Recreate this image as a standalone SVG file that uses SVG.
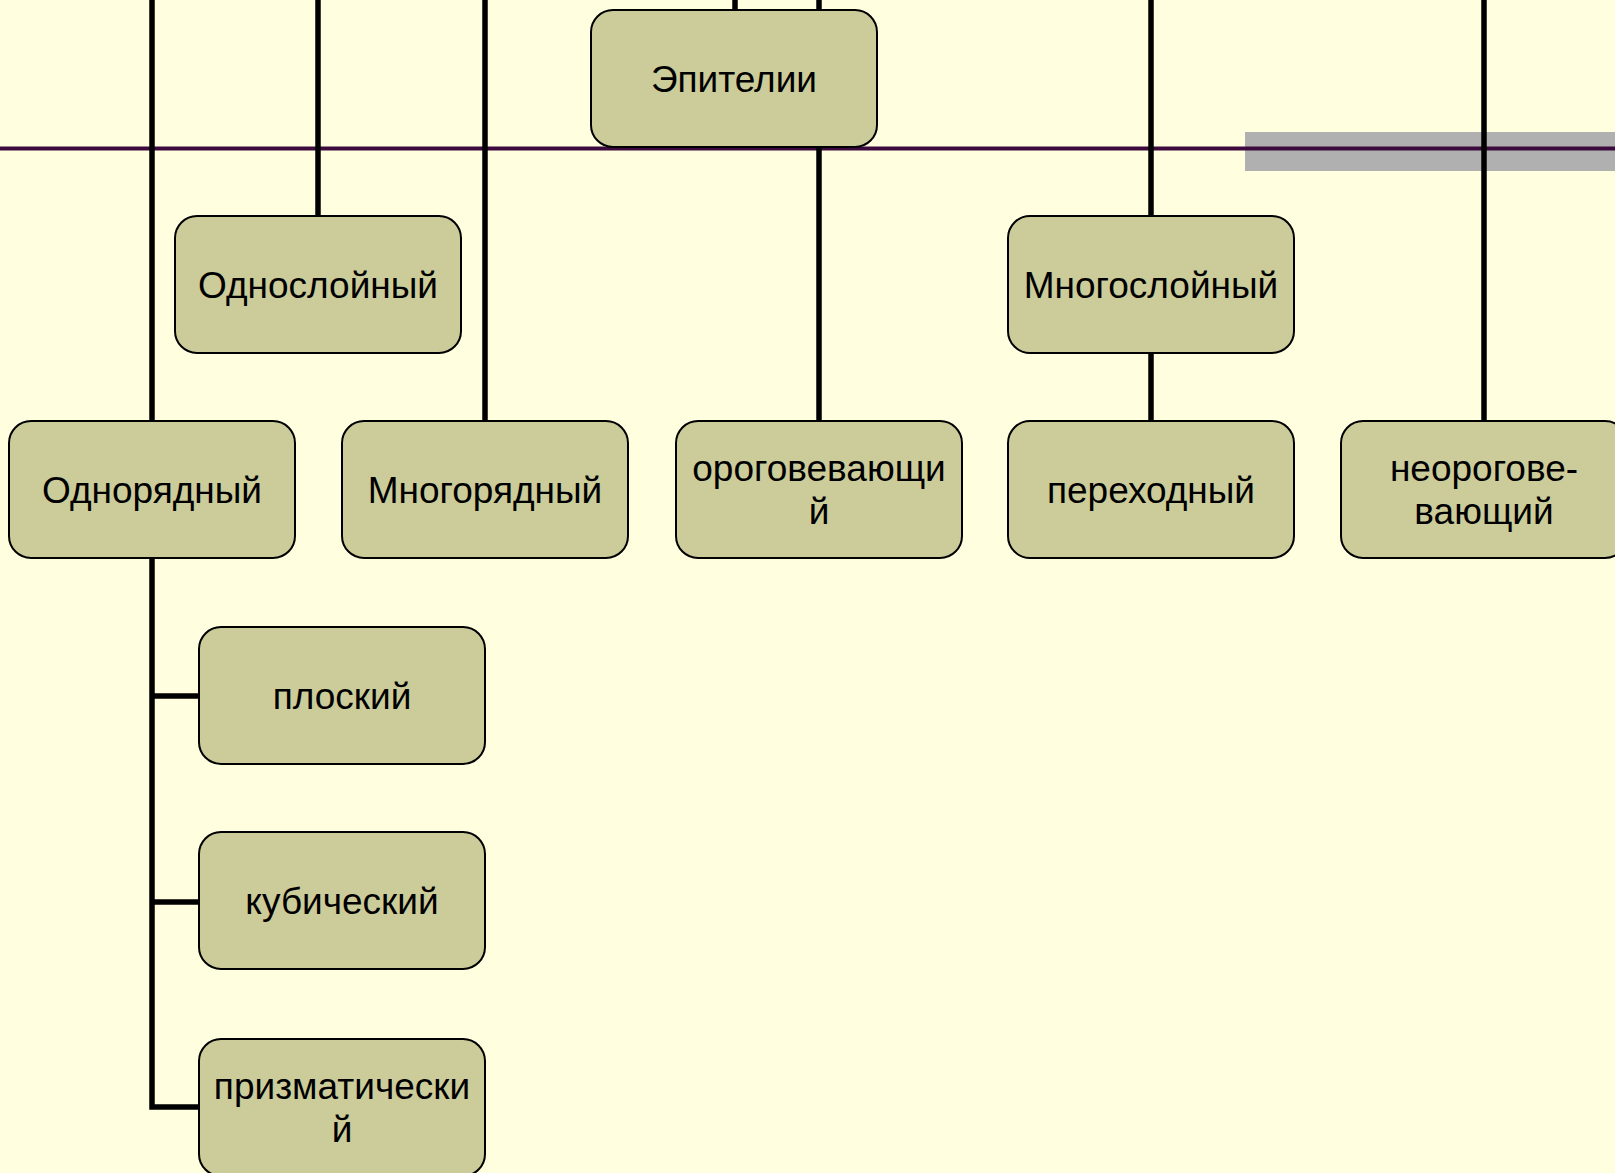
<svg xmlns="http://www.w3.org/2000/svg" width="1615" height="1173" viewBox="0 0 1615 1173">
<style>
.bg{fill:#FFFFE0}
.band{fill:#B0B0B0}
.rule{stroke:#3C0A3C;stroke-width:4;fill:none}
.conn{stroke:#000;stroke-width:5.5;fill:none}
.box{fill:#CCCC9A;stroke:#000;stroke-width:2}
.lbl{font-family:"Liberation Sans",Arial,sans-serif;font-size:37px;fill:#000;text-anchor:middle;dominant-baseline:central}
</style>
<rect class="bg" x="0" y="0" width="1615" height="1173"/>
<rect class="band" x="1245" y="132" width="370" height="39"/>
<line class="rule" x1="0" y1="148.5" x2="1615" y2="148.5"/>
<g id="connectors">
<line class="conn" x1="152" y1="0" x2="152" y2="421"/>
<polyline class="conn" points="152,558 152,1107 199,1107"/>
<line class="conn" x1="152" y1="696" x2="199" y2="696"/>
<line class="conn" x1="152" y1="902" x2="199" y2="902"/>
<line class="conn" x1="318" y1="0" x2="318" y2="216"/>
<line class="conn" x1="485" y1="0" x2="485" y2="421"/>
<line class="conn" x1="735" y1="0" x2="735" y2="10"/>
<line class="conn" x1="819" y1="0" x2="819" y2="421"/>
<line class="conn" x1="1151" y1="0" x2="1151" y2="421"/>
<line class="conn" x1="1484" y1="0" x2="1484" y2="421"/>
</g>
<g id="n-epitelii"><rect class="box" x="591" y="10" width="286" height="137" rx="22"/><text class="lbl" x="734" y="79">Эпителии</text></g>
<g id="n-odnosloiny"><rect class="box" x="175" y="216" width="286" height="137" rx="22"/><text class="lbl" x="318" y="285">Однослойный</text></g>
<g id="n-mnogosloiny"><rect class="box" x="1008" y="216" width="286" height="137" rx="22"/><text class="lbl" x="1151" y="285">Многослойный</text></g>
<g id="n-odnoryadny"><rect class="box" x="9" y="421" width="286" height="137" rx="22"/><text class="lbl" x="152" y="490">Однорядный</text></g>
<g id="n-mnogoryadny"><rect class="box" x="342" y="421" width="286" height="137" rx="22"/><text class="lbl" x="485" y="490">Многорядный</text></g>
<g id="n-orogov"><rect class="box" x="676" y="421" width="286" height="137" rx="22"/><text class="lbl" x="819" y="468">ороговевающи</text><text class="lbl" x="819" y="511">й</text></g>
<g id="n-perehodny"><rect class="box" x="1008" y="421" width="286" height="137" rx="22"/><text class="lbl" x="1151" y="490">переходный</text></g>
<g id="n-neorogov"><rect class="box" x="1341" y="421" width="286" height="137" rx="22"/><text class="lbl" x="1484" y="468">неорогове-</text><text class="lbl" x="1484" y="511">вающий</text></g>
<g id="n-ploskiy"><rect class="box" x="199" y="627" width="286" height="137" rx="22"/><text class="lbl" x="342" y="696">плоский</text></g>
<g id="n-kubicheskiy"><rect class="box" x="199" y="832" width="286" height="137" rx="22"/><text class="lbl" x="342" y="901">кубический</text></g>
<g id="n-prizmat"><rect class="box" x="199" y="1039" width="286" height="137" rx="22"/><text class="lbl" x="342" y="1086">призматически</text><text class="lbl" x="342" y="1129">й</text></g>
</svg>
